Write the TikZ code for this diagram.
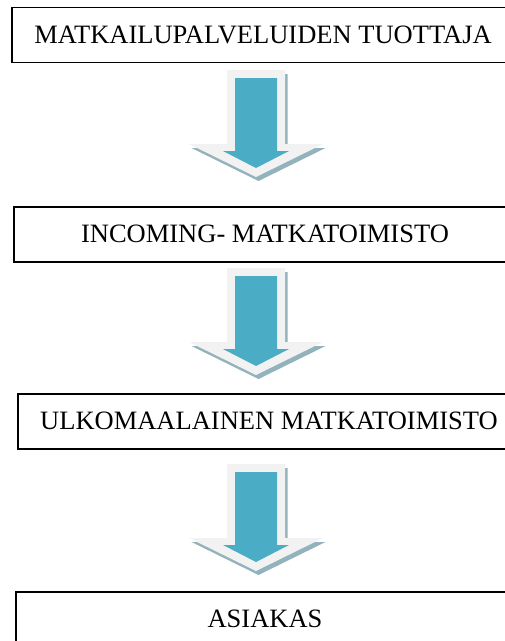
\documentclass[tikz,border=0pt]{standalone}
\usepackage{fontspec}
\setmainfont{Liberation Serif}
\usepackage[dvipsnames]{xcolor}

\definecolor{arrowblue}{HTML}{4BACC6}
\definecolor{arrowshade}{HTML}{93B3BC}
\definecolor{arrowrim}{HTML}{F2F2F2}

% big block arrow, top middle at #1
\newcommand{\blockarrow}[1]{
    \begin{scope}[shift={(#1)}]
        \fill[arrowshade,shift={(2.5,4)}] (-29,0) -- (29,0) -- (29,74) -- (67,74) -- (0,107) -- (-67,74) -- (-29,74) -- cycle;
        \fill[arrowrim] (-29,0) -- (29,0) -- (29,74) -- (67,74) -- (0,107) -- (-67,74) -- (-29,74) -- cycle;
        \fill[arrowblue] (-21,8) -- (21,8) -- (21,81) -- (33,81) -- (0,98) -- (-33,81) -- (-21,81) -- cycle;
    \end{scope}
}

\begin{document}
\begin{tikzpicture}[x=1pt,y=-1pt,box/.style={draw,line width=1.2pt,minimum height=55pt,inner sep=0pt,text height=17.5pt,text depth=1pt,font=\fontsize{26.5}{31}\selectfont}]

                \useasboundingbox (0,0) rectangle (505,641);

                \node[box, minimum width=502pt] (1) at (263,35) {MATKAILUPALVELUIDEN TUOTTAJA};
                \node[box, minimum width=502pt] (2) at (265,234.5) {INCOMING- MATKATOIMISTO};
                \node[box, minimum width=502pt] (3) at (269,421.5) {ULKOMAALAINEN MATKATOIMISTO};
                \node[box, minimum width=498pt, minimum height=54pt] (4) at (265,619) {ASIAKAS};

                \coordinate (a1) at (256,70);
                \coordinate (a2) at (256,268);
                \coordinate (a3) at (256,464);

                \blockarrow{a1}
                \blockarrow{a2}
                \blockarrow{a3}

            \end{tikzpicture}
\end{document}
